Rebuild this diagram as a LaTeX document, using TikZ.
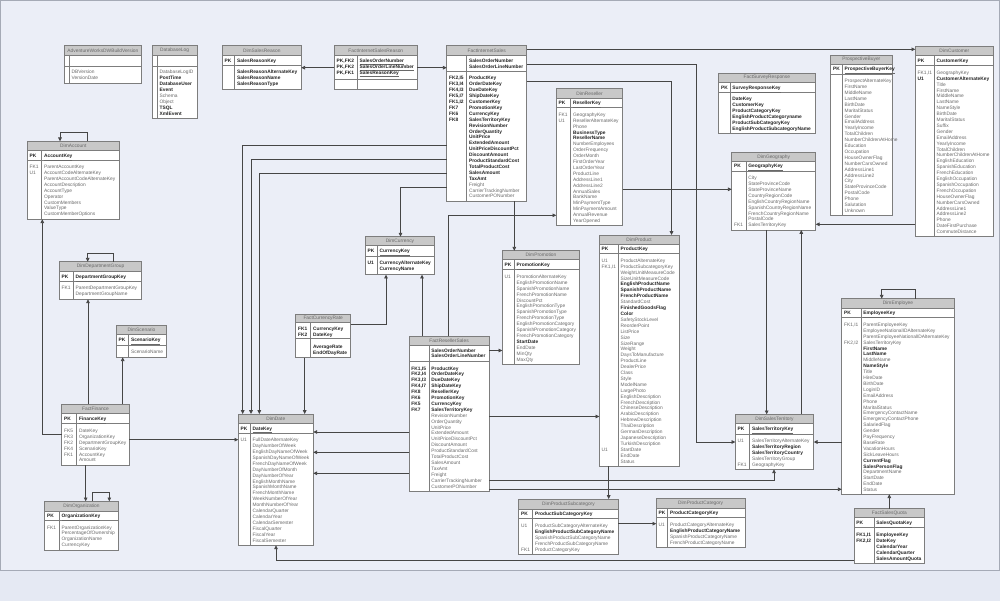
\documentclass[tikz,border=0pt]{standalone}
\usepackage{fontspec}
\setmainfont{Liberation Sans}
\usetikzlibrary{arrows.meta,fit}

\definecolor{pagebg}{RGB}{229,233,243}
\definecolor{panelbg}{RGB}{235,238,247}
\definecolor{framecol}{RGB}{165,170,182}
\definecolor{hdrfill}{RGB}{200,200,200}
\definecolor{boxline}{RGB}{125,125,125}
\definecolor{relline}{RGB}{70,70,70}
\definecolor{txtgray}{RGB}{105,105,105}
\definecolor{txtdark}{RGB}{35,35,35}

\newcommand{\erfont}{\fontsize{4.85pt}{5.9pt}\selectfont}
\newcommand{\req}[1]{{\color{txtdark}\bfseries #1}}
\newcommand{\pkey}[1]{\underline{\req{#1}}}

\tikzset{
  tblline/.style={draw=boxline, line width=0.7pt},
  tbltitle/.style={inner sep=0pt, font=\erfont, text=txtgray},
  fieldtxt/.style={anchor=base west, inner sep=0pt, font=\erfont, text=txtgray},
  fk/.style={draw=relline, line width=0.8pt, -{Triangle[length=3.8pt,width=3.6pt]}},
}

% table: name, title, left, top, right, divider, header bottom, key bottom, bottom
\newcommand{\ertable}[9]{%
  \fill[white] (#3,#4) rectangle (#5,#9);
  \fill[hdrfill] (#3,#4) rectangle (#5,#7);
  \draw[tblline] (#3,#7) -- (#5,#7) (#3,#8) -- (#5,#8) (#6,#7) -- (#6,#9);
  \draw[tblline] (#3,#4) rectangle (#5,#9);
  \node[tbltitle] at ({(#3+#5)/2},{(#4+#7)/2}) {#2};
  \node[inner sep=0pt, outer sep=0pt, fit={(#3,#4) (#5,#9)}] (#1) {};
}
% rows: left, divider, first row centre, key/field list
\newcommand{\fields}[4]{%
  \foreach \lab/\fld [count=\rowno from 0] in {#4}{
    \node[fieldtxt] at (#1+2.2,#3+1.7+5.9*\rowno) {\lab};
    \node[fieldtxt] at (#2+2.2,#3+1.7+5.9*\rowno) {\fld};
  }}

\begin{document}
\begin{tikzpicture}[x=1pt,y=-1pt]
  \useasboundingbox (0,0) rectangle (1000,601);
  \fill[pagebg] (0,0) rectangle (1000,601);
  \filldraw[fill=panelbg, draw=framecol, line width=0.8pt] (0.7,0.5) rectangle (999.3,570);

  % stand-alone tables
  \ertable{abv}{AdventureWorksDWBuildVersion}{64}{45.7}{141.7}{69.3}{55.3}{66}{83.3}
  \fields{64}{69.3}{72.3}{/DBVersion, /VersionDate}
  \ertable{dblog}{DatabaseLog}{152}{45.7}{197.3}{157.3}{55.3}{66}{118.7}
  \fields{152}{157.3}{72.3}{/DatabaseLogID, /\req{PostTime}, /\req{DatabaseUser}, /\req{Event},
    /Schema, /Object, /\req{TSQL}, /\req{XmlEvent}}

  \ertable{dsr}{DimSalesReason}{222.3}{45.7}{301.3}{234.7}{55.3}{65.3}{89.3}
  \fields{222.3}{234.7}{60.7}{\req{PK}/\pkey{SalesReasonKey}}
  \fields{222.3}{234.7}{72.3}{/\req{SalesReasonAlternateKey}, /\req{SalesReasonName}, /\req{SalesReasonType}}

  \ertable{fisr}{FactInternetSalesReason}{334.3}{45.7}{417.3}{357.3}{55.3}{79}{89.3}
  \fields{334.3}{357.3}{60.7}{\req{PK,FK2}/\pkey{SalesOrderNumber}, \req{PK,FK2}/\pkey{SalesOrderLineNumber},
    \req{PK,FK1}/\pkey{SalesReasonKey}}

  % internet sales fact
  \ertable{fis}{FactInternetSales}{446.7}{45.7}{526.7}{466.7}{55.3}{71.7}{201.3}
  \fields{446.7}{466.7}{60.7}{/\req{SalesOrderNumber}, /\req{SalesOrderLineNumber}}
  \fields{446.7}{466.7}{78.3}{\req{FK2,I5}/\req{ProductKey}, \req{FK3,I4}/\req{OrderDateKey},
    \req{FK4,I3}/\req{DueDateKey}, \req{FK5,I7}/\req{ShipDateKey}, \req{FK1,I2}/\req{CustomerKey},
    \req{FK7}/\req{PromotionKey}, \req{FK6}/\req{CurrencyKey}, \req{FK8}/\req{SalesTerritoryKey},
    /\req{RevisionNumber}, /\req{OrderQuantity}, /\req{UnitPrice}, /\req{ExtendedAmount},
    /\req{UnitPriceDiscountPct}, /\req{DiscountAmount}, /\req{ProductStandardCost},
    /\req{TotalProductCost}, /\req{SalesAmount}, /\req{TaxAmt}, /Freight,
    /CarrierTrackingNumber, /CustomerPONumber}

  \ertable{drs}{DimReseller}{556.3}{88.7}{622.7}{570.7}{98.3}{107.7}{225.3}
  \fields{556.3}{570.7}{103}{\req{PK}/\pkey{ResellerKey}}
  \fields{556.3}{570.7}{114.7}{FK1/GeographyKey, U1/ResellerAlternateKey, /Phone, /\req{BusinessType},
    /\req{ResellerName}, /NumberEmployees, /OrderFrequency, /OrderMonth, /FirstOrderYear,
    /LastOrderYear, /ProductLine, /AddressLine1, /AddressLine2, /AnnualSales, /BankName,
    /MinPaymentType, /MinPaymentAmount, /AnnualRevenue, /YearOpened}

  \ertable{fsr}{FactSurveyResponse}{718.7}{73}{815}{730}{82.3}{92.3}{133.3}
  \fields{718.7}{730}{87.7}{\req{PK}/\pkey{SurveyResponseKey}}
  \fields{718.7}{730}{99}{/\req{DateKey}, /\req{CustomerKey}, /\req{ProductCategoryKey},
    /\req{EnglishProductCategoryname}, /\req{ProductSubCategoryKey}, /\req{EnglishProductSubcategoryName}}

  \ertable{pb}{ProspectiveBuyer}{830.7}{55}{892}{842.3}{64}{74}{215}
  \fields{830.7}{842.3}{69.3}{\req{PK}/\pkey{ProspectiveBuyerKey}}
  \fields{830.7}{842.3}{81}{/ProspectAlternateKey, /FirstName, /MiddleName, /LastName, /BirthDate,
    /MaritalStatus, /Gender, /EmailAddress, /YearlyIncome, /TotalChildren, /NumberChildrenAtHome,
    /Education, /Occupation, /HouseOwnerFlag, /NumberCarsOwned, /AddressLine1, /AddressLine2,
    /City, /StateProvinceCode, /PostalCode, /Phone, /Salutation, /Unknown}

  \ertable{dcu}{DimCustomer}{915.3}{46.7}{993.3}{934.3}{55.7}{65.7}{236.7}
  \fields{915.3}{934.3}{61}{\req{PK}/\pkey{CustomerKey}}
  \fields{915.3}{934.3}{72.7}{FK1{,}I1/GeographyKey, \req{U1}/\req{CustomerAlternateKey}, /Title,
    /FirstName, /MiddleName, /LastName, /NameStyle, /BirthDate, /MaritalStatus, /Suffix, /Gender,
    /EmailAddress, /YearlyIncome, /TotalChildren, /NumberChildrenAtHome, /EnglishEducation,
    /SpanishEducation, /FrenchEducation, /EnglishOccupation, /SpanishOccupation,
    /FrenchOccupation, /HouseOwnerFlag, /NumberCarsOwned, /AddressLine1, /AddressLine2, /Phone,
    /DateFirstPurchase, /CommuteDistance}

  % finance side
  \ertable{dacc}{DimAccount}{27.3}{141.3}{119.3}{41.7}{150.7}{160.3}{219.3}
  \fields{27.3}{41.7}{155.7}{\req{PK}/\pkey{AccountKey}}
  \fields{27.3}{41.7}{167}{FK1/ParentAccountKey, U1/AccountCodeAlternateKey,
    /ParentAccountCodeAlternateKey, /AccountDescription, /AccountType, /Operator,
    /CustomMembers, /ValueType, /CustomMemberOptions}

  \ertable{ddg}{DimDepartmentGroup}{59.3}{261.7}{141.7}{73.3}{271.3}{281.3}{299.3}
  \fields{59.3}{73.3}{276.7}{\req{PK}/\pkey{DepartmentGroupKey}}
  \fields{59.3}{73.3}{288}{FK1/ParentDepartmentGroupKey, /DepartmentGroupName}

  \ertable{dsc}{DimScenario}{116.3}{325.3}{166.7}{128.7}{334.7}{345.7}{357.3}
  \fields{116.3}{128.7}{340}{\req{PK}/\pkey{ScenarioKey}}
  \fields{116.3}{128.7}{352}{/ScenarioName}

  \ertable{fin}{FactFinance}{61.7}{404.3}{129.3}{76.7}{413.7}{423.7}{465}
  \fields{61.7}{76.7}{419}{\req{PK}/\pkey{FinanceKey}}
  \fields{61.7}{76.7}{430.7}{FK5/DateKey, FK3/OrganizationKey, FK2/DepartmentGroupKey,
    FK4/ScenarioKey, FK1/AccountKey, /Amount}

  \ertable{dorg}{DimOrganization}{44.7}{501.3}{118.3}{59.3}{511}{520.7}{550.3}
  \fields{44.7}{59.3}{516}{\req{PK}/\pkey{OrganizationKey}}
  \fields{44.7}{59.3}{527.3}{FK1/ParentOrganizationKey, /PercentageOfOwnership,
    /OrganizationName, /CurrencyKey}

  % currency and date
  \ertable{dcur}{DimCurrency}{365.3}{236.7}{434.7}{377.3}{245.7}{256.3}{274.7}
  \fields{365.3}{377.3}{251.3}{\req{PK}/\pkey{CurrencyKey}}
  \fields{365.3}{377.3}{263}{\req{U1}/\req{CurrencyAlternateKey}, /\req{CurrencyName}}

  \ertable{fcr}{FactCurrencyRate}{295.7}{314.3}{350.7}{310.7}{322.3}{338.3}{357.7}
  \fields{295.7}{310.7}{329}{\req{FK1}/\req{CurrencyKey}, \req{FK2}/\req{DateKey}}
  \fields{295.7}{310.7}{346.7}{/\req{AverageRate}, /\req{EndOfDayRate}}

  \ertable{ddate}{DimDate}{238.3}{414}{313.3}{250.3}{423.7}{433.3}{545.3}
  \fields{238.3}{250.3}{428.3}{\req{PK}/\pkey{DateKey}}
  \fields{238.3}{250.3}{440}{U1/FullDateAlternateKey, /DayNumberOfWeek, /EnglishDayNameOfWeek,
    /SpanishDayNameOfWeek, /FrenchDayNameOfWeek, /DayNumberOfMonth, /DayNumberOfYear,
    /EnglishMonthName, /SpanishMonthName, /FrenchMonthName, /WeekNumberOfYear,
    /MonthNumberOfYear, /CalendarQuarter, /CalendarYear, /CalendarSemester, /FiscalQuarter,
    /FiscalYear, /FiscalSemester}

  % reseller sales fact
  \ertable{frs}{FactResellerSales}{409}{336}{489}{429}{345}{361}{491.3}
  \fields{409}{429}{350.3}{/\req{SalesOrderNumber}, /\req{SalesOrderLineNumber}}
  \fields{409}{429}{368.3}{\req{FK1,I5}/\req{ProductKey}, \req{FK2,I4}/\req{OrderDateKey},
    \req{FK3,I3}/\req{DueDateKey}, \req{FK4,I7}/\req{ShipDateKey}, \req{FK8}/\req{ResellerKey},
    \req{FK6}/\req{PromotionKey}, \req{FK5}/\req{CurrencyKey}, \req{FK7}/\req{SalesTerritoryKey},
    /RevisionNumber, /OrderQuantity, /UnitPrice, /ExtendedAmount, /UnitPriceDiscountPct,
    /DiscountAmount, /ProductStandardCost, /TotalProductCost, /SalesAmount, /TaxAmt, /Freight,
    /CarrierTrackingNumber, /CustomerPONumber}

  \ertable{dprom}{DimPromotion}{502.3}{250.7}{579.7}{514.3}{259.7}{269.3}{364.3}
  \fields{502.3}{514.3}{265.3}{\req{PK}/\pkey{PromotionKey}}
  \fields{502.3}{514.3}{276.7}{U1/PromotionAlternateKey, /EnglishPromotionName,
    /SpanishPromotionName, /FrenchPromotionName, /DiscountPct, /EnglishPromotionType,
    /SpanishPromotionType, /FrenchPromotionType, /EnglishPromotionCategory,
    /SpanishPromotionCategory, /FrenchPromotionCategory, /\req{StartDate}, /EndDate, /MinQty, /MaxQty}

  % product tables
  \ertable{dprod}{DimProduct}{599.3}{235}{679}{618.3}{244.3}{253.7}{466.3}
  \fields{599.3}{618.3}{249.3}{\req{PK}/\pkey{ProductKey}}
  \fields{599.3}{618.3}{260.7}{U1/ProductAlternateKey, FK1{,}I1/ProductSubcategoryKey,
    /WeightUnitMeasureCode, /SizeUnitMeasureCode, /\req{EnglishProductName},
    /\req{SpanishProductName}, /\req{FrenchProductName}, /StandardCost, /\req{FinishedGoodsFlag},
    /\req{Color}, /SafetyStockLevel, /ReorderPoint, /ListPrice, /Size, /SizeRange, /Weight,
    /DaysToManufacture, /ProductLine, /DealerPrice, /Class, /Style, /ModelName, /LargePhoto,
    /EnglishDescription, /FrenchDescription, /ChineseDescription, /ArabicDescription,
    /HebrewDescription, /ThaiDescription, /GermanDescription, /JapaneseDescription,
    /TurkishDescription, U1/StartDate, /EndDate, /Status}

  \ertable{dpsc}{DimProductSubcategory}{518.7}{499}{618.3}{532.7}{509}{518.7}{554.3}
  \fields{518.7}{532.7}{514}{\req{PK}/\pkey{ProductSubCategoryKey}}
  \fields{518.7}{532.7}{525.7}{U1/ProductSubCategoryAlternateKey, /\req{EnglishProductSubCategoryName},
    /SpanishProductSubCategoryName, /FrenchProductSubCategoryName, FK1/ProductCategoryKey}

  \ertable{dpc}{DimProductCategory}{656.3}{498.7}{745}{667.7}{508}{517.7}{547.3}
  \fields{656.3}{667.7}{513}{\req{PK}/\pkey{ProductCategoryKey}}
  \fields{656.3}{667.7}{525}{U1/ProductCategoryAlternateKey, /\req{EnglishProductCategoryName},
    /SpanishProductCategoryName, /FrenchProductCategoryName}

  % geography, territory, employee
  \ertable{dgeo}{DimGeography}{731.7}{152.3}{815.7}{746}{161.3}{171}{230}
  \fields{731.7}{746}{166.3}{\req{PK}/\pkey{GeographyKey}}
  \fields{731.7}{746}{178}{/City, /StateProvinceCode, /StateProvinceName, /CountryRegionCode,
    /EnglishCountryRegionName, /SpanishCountryRegionName, /FrenchCountryRegionName,
    /PostalCode, FK1/SalesTerritoryKey}

  \ertable{dst}{DimSalesTerritory}{735.3}{414.3}{813.7}{749.7}{423.7}{434}{469.3}
  \fields{735.3}{749.7}{429}{\req{PK}/\pkey{SalesTerritoryKey}}
  \fields{735.3}{749.7}{440.7}{U1/SalesTerritoryAlternateKey, /\req{SalesTerritoryRegion},
    /\req{SalesTerritoryCountry}, /SalesTerritoryGroup, FK1/GeographyKey}

  \ertable{demp}{DimEmployee}{841.7}{298.7}{954.3}{861}{308}{317.7}{494.3}
  \fields{841.7}{861}{313}{\req{PK}/\pkey{EmployeeKey}}
  \fields{841.7}{861}{324.7}{FK1{,}I1/ParentEmployeeKey, /EmployeeNationalIDAlternateKey,
    /ParentEmployeeNationalIDAlternateKey, FK2{,}I2/SalesTerritoryKey, /\req{FirstName},
    /\req{LastName}, /MiddleName, /\req{NameStyle}, /Title, /HireDate, /BirthDate, /LoginID,
    /EmailAddress, /Phone, /MaritalStatus, /EmergencyContactName, /EmergencyContactPhone,
    /SalariedFlag, /Gender, /PayFrequency, /BaseRate, /VacationHours, /SickLeaveHours,
    /\req{CurrentFlag}, /\req{SalesPersonFlag}, /DepartmentName, /StartDate, /EndDate, /Status}

  \ertable{fsq}{FactSalesQuota}{854}{508.7}{924.7}{874}{517.7}{527.7}{563.3}
  \fields{854}{874}{522.7}{\req{PK}/\pkey{SalesQuotaKey}}
  \fields{854}{874}{535}{\req{FK1,I1}/\req{EmployeeKey}, \req{FK2,I2}/\req{DateKey},
    /\req{CalendarYear}, /\req{CalendarQuarter}, /\req{SalesAmountQuota}}

  % relationships from FactInternetSales
  \draw[fk] (fisr.west |- 0,67.7) -- (dsr.east |- 0,67.7);
  \draw[fk] (fisr.east |- 0,67.7) -- (fis.west |- 0,67.7);
  \draw[fk] (fis.east |- 0,49.3) -- (dcu.west |- 0,49.3);
  \draw[fk] (fis.east |- 0,64.3) -- (696,64.3) -- (696,442) -- (dst.west |- 0,442);
  \draw[fk] (fis.east |- 0,81.3) -- (671.5,81.3) -- (dprod.north -| 671.5,0);
  \draw[fk] (fis.south -| 514.3,0) -- (dprom.north -| 514.3,0);
  \draw[fk] (fis.west |- 0,145.5) -- (242.7,145.5) -- (ddate.north -| 242.7,0);
  \draw[fk] (fis.west |- 0,159.3) -- (251,159.3) -- (ddate.north -| 251,0);
  \draw[fk] (fis.west |- 0,173.5) -- (259.3,173.5) -- (ddate.north -| 259.3,0);
  \draw[fk] (fis.west |- 0,187.3) -- (400.5,187.3) -- (dcur.north -| 400.5,0);

  % relationships from FactResellerSales
  \draw[fk] (frs.north -| 448.3,0) -- (448.3,215.3) -- (drs.west |- 0,215.3);
  \draw[fk] (frs.north -| 422,0) -- (dcur.south -| 422,0);
  \draw[fk] (frs.east |- 0,350.5) -- (dprom.west |- 0,350.5);
  \draw[fk] (frs.east |- 0,416.5) -- (dprod.west |- 0,416.5);
  \draw[fk] (frs.east |- 0,480.7) -- (774,480.7) -- (dst.south -| 774,0);
  \draw[fk] (frs.east |- 0,489.3) -- (demp.west |- 0,489.3);
  \draw[fk] (frs.west |- 0,432) -- (ddate.east |- 0,432);
  \draw[fk] (frs.west |- 0,452.3) -- (ddate.east |- 0,452.3);
  \draw[fk] (frs.west |- 0,473.3) -- (ddate.east |- 0,473.3);

  % currency rate, products, geography
  \draw[fk] (fcr.east |- 0,324) -- (386,324) -- (dcur.south -| 386,0);
  \draw[fk] (fcr.south -| 304.7,0) -- (ddate.north -| 304.7,0);
  \draw[fk] (dprod.south -| 608.7,0) -- (dpsc.north -| 608.7,0);
  \draw[fk] (dpsc.east |- 0,523.7) -- (dpc.west |- 0,523.7);
  \draw[fk] (drs.east |- 0,189.3) -- (dgeo.west |- 0,189.3);
  \draw[fk] (dcu.west |- 0,224.3) -- (dgeo.east |- 0,224.3);
  \draw[fk] (dgeo.south -| 766.7,0) -- (dst.north -| 766.7,0);
  \draw[fk] (dst.north -| 801.3,0) -- (dgeo.south -| 801.3,0);
  \draw[fk] (demp.west |- 0,442) -- (dst.east |- 0,442);
  \draw[fk] (demp.north -| 915,0) -- (915,289.7) -- (881.7,289.7) -- (demp.north -| 881.7,0);
  \draw[fk] (fsq.north -| 889.3,0) -- (demp.south -| 889.3,0);
  \draw[fk] (fsq.west |- 0,560) -- (276,560) -- (ddate.south -| 276,0);

  % finance relationships
  \draw[fk] (fin.east |- 0,439.7) -- (ddate.west |- 0,439.7);
  \draw[fk] (fin.west |- 0,434) -- (42.3,434) -- (dacc.south -| 42.3,0);
  \draw[fk] (fin.north -| 88,0) -- (ddg.south -| 88,0);
  \draw[fk] (fin.north -| 122.7,0) -- (dsc.south -| 122.7,0);
  \draw[fk] (fin.south -| 85.7,0) -- (dorg.north -| 85.7,0);
  \draw[fk] (dorg.north -| 92.7,0) -- (92.7,492.3) -- (109.3,492.3) -- (dorg.north -| 109.3,0);
  \draw[fk] (dacc.north -| 87.3,0) -- (87.3,132.3) -- (60,132.3) -- (dacc.north -| 60,0);
  \draw[fk] (ddg.north -| 113.3,0) -- (113.3,253) -- (87.7,253) -- (ddg.north -| 87.7,0);
\end{tikzpicture}
\end{document}
